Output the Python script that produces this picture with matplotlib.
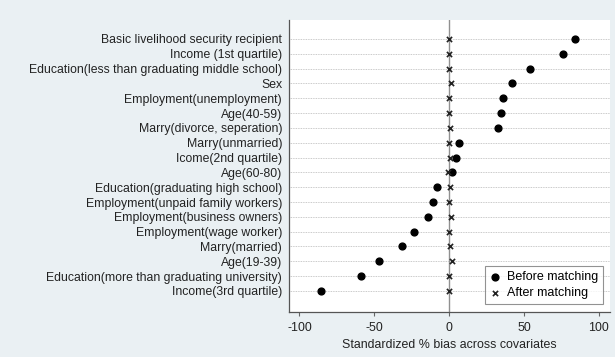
import matplotlib.pyplot as plt
import numpy as np

plt.rcParams['font.family'] = ['Liberation Sans', 'DejaVu Sans']

# covariates, top to bottom
covariates = [
    "Basic livelihood security recipient",
    "Income (1st quartile)",
    "Education(less than graduating middle school)",
    "Sex",
    "Employment(unemployment)",
    "Age(40-59)",
    "Marry(divorce, seperation)",
    "Marry(unmarried)",
    "Icome(2nd quartile)",
    "Age(60-80)",
    "Education(graduating high school)",
    "Employment(unpaid family workers)",
    "Employment(business owners)",
    "Employment(wage worker)",
    "Marry(married)",
    "Age(19-39)",
    "Education(more than graduating university)",
    "Income(3rd quartile)",
]
bias_before = [83.8, 76.0, 54.0, 42.2, 36.2, 34.7, 32.7, 6.4, 4.9, 2.2,
               -8.0, -10.9, -14.0, -23.6, -31.3, -46.7, -59.0, -85.8]
bias_after = [0.0, -0.4, 0.2, 1.3, 0.1, 0.1, 0.3, 0.0, 0.7, -0.9,
              0.3, 0.1, 1.1, 0.1, 0.3, 2.0, 0.1, 0.1]
xticks = [-100, -50, 0, 50, 100]

bg = '#eaf0f3'
fig = plt.figure(figsize=(6.15, 3.57), dpi=100, facecolor=bg)
ax = fig.add_axes([289/615, 1-312/357, (610-289)/615, (312-20)/357])
ax.set_facecolor('white')

y = np.arange(len(covariates))[::-1]
for yy in y:
    ax.axhline(yy, color='#b8b8b8', lw=0.6, ls=(0, (1, 1)), zorder=1)
ax.axvline(0, color='#909090', lw=1.0, zorder=1)

ax.scatter(bias_before, y, s=24, marker='o', color='black', zorder=3,
           label='Before matching')
ax.scatter(bias_after, y, s=14, marker='x', color='#222222', linewidths=1.2,
           zorder=3, label='After matching')

ax.set_xlim(-107, 107.5)
ax.set_ylim(-1.42, len(covariates) - 1 + 1.28)
ax.set_yticks(y)
ax.set_yticklabels(covariates, fontsize=8.8, color='#222222')
ax.set_xticks(xticks)
ax.set_xticklabels([str(t) for t in xticks], fontsize=8.9, color='#222222')
ax.tick_params(axis='y', length=0, pad=5)
ax.tick_params(axis='x', length=3, width=0.8, color='#666666', pad=4)

ax.spines['top'].set_visible(False)
ax.spines['right'].set_visible(False)
for s in ('left', 'bottom'):
    ax.spines[s].set_color('#555555')
    ax.spines[s].set_linewidth(0.9)

ax.set_xlabel('Standardized % bias across covariates', fontsize=8.9,
              color='#222222', labelpad=4)

leg = ax.legend(loc='lower right', bbox_to_anchor=(0.978, 0.027), fontsize=9.0,
                frameon=True, fancybox=False, handletextpad=0.5,
                borderpad=0.4, labelspacing=0.3, handlelength=0.8,
                borderaxespad=0)
leg.get_frame().set_edgecolor('#777777')
leg.get_frame().set_linewidth(0.8)

fig.savefig('out.png', dpi=100, facecolor=bg)
